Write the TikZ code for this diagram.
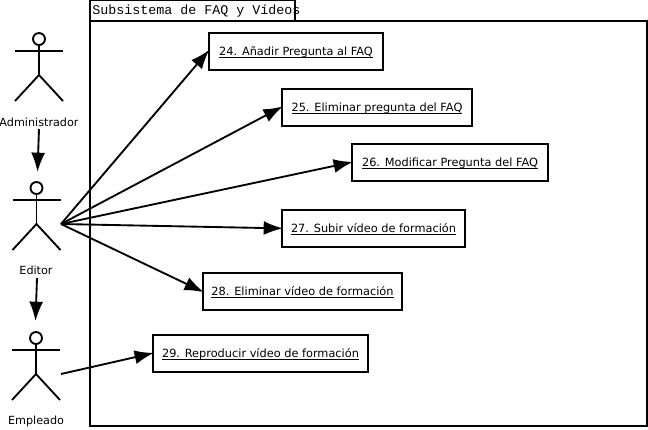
\documentclass[tikz,border=0pt]{standalone}
\usepackage{fontspec}
\setmainfont{DejaVu Sans}
\newfontfamily\titlefont{Liberation Mono}
\usetikzlibrary{positioning}
\usetikzlibrary{arrows.meta}
\usetikzlibrary{calc}
\newcommand{\actorfig}[1]{
\draw [thick] (#1) circle (4.5pt);
\coordinate (#1n) at ($(#1)+(0,6)$);
\coordinate (#1a) at ($(#1)+(0,12)$);
\coordinate (#1h) at ($(#1)+(0,36)$);
\draw [thick] (#1n) -- (#1h);
\draw [thick] ($(#1a)+(-24,0)$) -- ($(#1a)+(24,0)$);
\draw [thick] ($(#1h)+(-24,26)$) -- (#1h) -- ($(#1h)+(24,26)$);
}
\newcommand{\usecasebox}[5]{\node [usecase,minimum width=#3*0.75pt,minimum height=27.5pt,inner sep=0pt,text height=6.8pt,text depth=0pt] (#4) at (#1-1,#2-1) {\underline{\smash{#5}}};}
\begin{document}
\begin{tikzpicture}[x=0.75pt,y=-0.75pt,>={Latex[length=14.5pt,width=10.5pt]},
thick/.style={line width=1.4pt},
usecase/.style={draw,line width=1.5pt,anchor=north west,font=\fontsize{8.5}{10}\selectfont},
actorlabel/.style={font=\fontsize{8.4}{10}\selectfont,inner sep=0pt}]
\useasboundingbox (0,0) rectangle (648,429);

% subsystem frame
\draw [line width=1.5pt] (90,21) rectangle (647,426);
\draw [line width=1.5pt] (90,21) -- (90,0) -- (295,0) -- (295,21);
\node [anchor=west,inner sep=0pt,font=\titlefont\fontsize{10}{12}\selectfont] (title) at (92,11) {Subsistema de FAQ y Vídeos};

% actors
\coordinate (admin) at (39,39);
\coordinate (editor) at (36.5,188);
\coordinate (empleado) at (36,338);
\actorfig{admin}
\actorfig{editor}
\actorfig{empleado}
\node [actorlabel] (ladmin) at (39,122) {Administrador};
\node [actorlabel] (leditor) at (36,270) {Editor};
\node [actorlabel] (lempleado) at (36,421) {Empleado};

% use cases
\usecasebox{209}{33}{174}{uc24}{24. Añadir Pregunta al FAQ}
\usecasebox{282}{89}{190}{uc25}{25. Eliminar pregunta del FAQ}
\usecasebox{352}{144}{196}{uc26}{26. Modificar Pregunta del FAQ}
\usecasebox{282}{210}{183}{uc27}{27. Subir vídeo de formación}
\usecasebox{203}{273}{199}{uc28}{28. Eliminar vídeo de formación}
\usecasebox{153}{335}{215}{uc29}{29. Reproducir vídeo de formación}

% generalization arrows
\coordinate (aend) at (37.5,172);
\coordinate (astart) at (39,129);
\coordinate (eend) at (35.5,321);
\coordinate (estart) at (37,278);
\draw [->,thick] (astart) -- (aend);
\draw [->,thick] (estart) -- (eend);

% arrows to use cases
\coordinate (edhand) at (61,224);
\coordinate (emphand) at (61,374);
\foreach \uc in {uc24,uc25,uc26,uc27,uc28}
  \draw [->,thick,shorten >=-1.5pt] (edhand) -- (\uc.west);
\draw [->,thick,shorten >=-1.5pt] (emphand) -- (uc29.west);
\end{tikzpicture}
\end{document}
